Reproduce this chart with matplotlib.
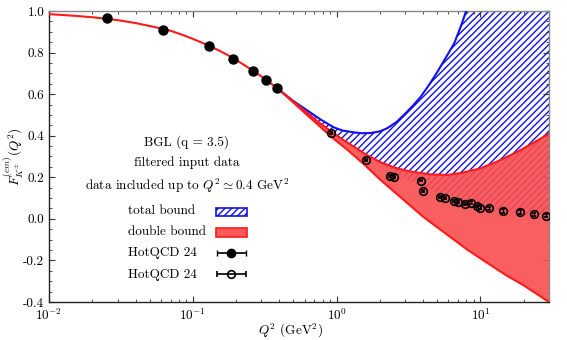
import numpy as np
import matplotlib
matplotlib.use("Agg")
import matplotlib.pyplot as plt
from matplotlib.patches import Patch
from matplotlib.container import ErrorbarContainer
from matplotlib.legend_handler import HandlerErrorbar
from matplotlib.ticker import FixedLocator, FixedFormatter, MultipleLocator, LogLocator, NullFormatter

plt.rcParams['font.family'] = 'serif'
plt.rcParams['font.serif'] = ['cmr10', 'DejaVu Serif']
plt.rcParams['mathtext.fontset'] = 'cm'
plt.rcParams['axes.formatter.use_mathtext'] = True
plt.rcParams['hatch.linewidth'] = 1.0

# ---- data ----
# central curve (before the bands open)
central_q2 = [0.01, 0.015, 0.02, 0.03, 0.04, 0.055, 0.07, 0.085, 0.1, 0.125, 0.15, 0.175, 0.2, 0.25, 0.3, 0.35, 0.4]
central_f = [0.985, 0.977, 0.970, 0.956, 0.942, 0.922, 0.905, 0.885, 0.866, 0.838, 0.812, 0.788, 0.765, 0.722, 0.685, 0.651, 0.620]

# total bound (blue) upper edge
blue_up_q2 = [0.4, 0.5, 0.6, 0.774, 0.957, 1.1, 1.32, 1.5, 1.73, 2.0, 2.25, 2.6, 2.94, 3.4, 3.85, 4.4, 5.03, 5.8, 6.58, 7.3, 7.93, 9.0, 12.0, 20.0, 30.0]
blue_up_f = [0.620, 0.567, 0.530, 0.478, 0.440, 0.425, 0.416, 0.412, 0.413, 0.421, 0.436, 0.465, 0.500, 0.545, 0.588, 0.645, 0.708, 0.780, 0.845, 0.925, 0.997, 1.110, 1.380, 1.850, 2.200]
# total bound lower edge (mostly hidden under the double bound)
blue_lo_q2 = [0.4, 0.6, 1.0, 1.5, 2.0, 3.0, 4.0, 6.0, 10.0, 20.0, 30.0]
blue_lo_f = [0.620, 0.520, 0.405, 0.320, 0.265, 0.195, 0.155, 0.105, 0.060, 0.020, 0.005]

# double bound (red) edges
red_up_q2 = [0.4, 0.5, 0.6, 0.75, 0.92, 1.1, 1.32, 1.6, 2.03, 2.5, 3.0, 3.46, 4.5, 5.9, 7.5, 10.0, 13.0, 17.2, 22.0, 30.0]
red_up_f = [0.620, 0.565, 0.520, 0.465, 0.420, 0.382, 0.347, 0.310, 0.272, 0.248, 0.233, 0.225, 0.214, 0.211, 0.222, 0.243, 0.275, 0.315, 0.355, 0.410]
red_lo_q2 = [0.4, 0.5, 0.6, 0.75, 0.92, 1.2, 1.6, 2.0, 2.94, 4.0, 5.9, 8.0, 10.0, 15.0, 20.0, 30.0]
red_lo_f = [0.620, 0.560, 0.510, 0.450, 0.394, 0.330, 0.254, 0.190, 0.090, 0.010, -0.077, -0.145, -0.190, -0.270, -0.320, -0.400]

# HotQCD 24 input (filled) and remaining data (open)
in_q2 = [0.0254, 0.0622, 0.130, 0.1905, 0.261, 0.3236, 0.384]
in_f = [0.966, 0.909, 0.832, 0.769, 0.711, 0.667, 0.628]
in_err = [0.004, 0.004, 0.004, 0.004, 0.004, 0.004, 0.004]

out_q2 = [0.918, 1.60, 2.35, 2.51, 3.85, 4.02, 5.25, 5.66, 6.57, 7.0, 7.84, 8.59, 9.46, 9.97, 11.5, 14.3, 18.8, 23.7, 28.6]
out_f = [0.413, 0.283, 0.206, 0.200, 0.184, 0.134, 0.104, 0.102, 0.086, 0.081, 0.072, 0.078, 0.062, 0.054, 0.051, 0.038, 0.033, 0.022, 0.015]
out_err = [0.004, 0.004, 0.004, 0.004, 0.004, 0.004, 0.005, 0.005, 0.006, 0.006, 0.006, 0.006, 0.007, 0.007, 0.008, 0.010, 0.008, 0.006, 0.006]

yticks = [-0.4, -0.2, 0.0, 0.2, 0.4, 0.6, 0.8, 1.0]
ytick_labels = ['-0.4', '-0.2', '0.0', '0.2', '0.4', '0.6', '0.8', '1.0']
xticks = [0.01, 0.1, 1, 10]
xtick_labels = [r'$10^{-2}$', r'$10^{-1}$', r'$10^{0}$', r'$10^{1}$']

legend_labels = ['total bound', 'double bound', 'HotQCD 24', 'HotQCD 24']
info_lines = ['BGL (q = 3.5)', 'filtered input data', r'data included up to $Q^2 \simeq 0.4$ GeV$^2$']

# ---- figure ----
fig = plt.figure(figsize=(5.67, 3.40), dpi=100)
ax = fig.add_axes([49/567, 1-302/340, 500/567, 291/340])

BLUE = '#1010ee'
RED = '#ff1a1a'

# total bound band
bx = np.array(blue_up_q2)
ax.fill_between(bx, np.interp(np.log(bx), np.log(blue_lo_q2), blue_lo_f), blue_up_f,
                facecolor='none', edgecolor=BLUE, hatch='/////', linewidth=0, zorder=1)
ax.plot(blue_up_q2, blue_up_f, color=BLUE, lw=1.5, zorder=3)

# double bound band
rx = np.array(red_up_q2)
ax.fill_between(rx, np.interp(np.log(rx), np.log(red_lo_q2), red_lo_f), red_up_f,
                facecolor=(0.98, 0.30, 0.30), alpha=0.9, edgecolor='none', linewidth=0, zorder=2)
ax.plot(red_up_q2, red_up_f, color=RED, lw=1.5, zorder=3)
ax.plot(red_lo_q2, red_lo_f, color=RED, lw=1.5, zorder=3)
ax.plot(central_q2, central_f, color=RED, lw=1.5, zorder=3)

# data
ax.errorbar(in_q2, in_f, yerr=in_err, fmt='o', color='black', ms=6.5, capsize=2, lw=1, zorder=5)
ax.errorbar(out_q2, out_f, yerr=out_err, fmt='o', color='black', mfc='none', ms=5.5, mew=1.2,
            capsize=1.5, lw=1, zorder=5)

ax.set_xscale('log')
ax.set_xlim(0.01, 30)
ax.set_ylim(-0.4, 1.0)

ax.xaxis.set_major_locator(FixedLocator(xticks))
ax.xaxis.set_major_formatter(FixedFormatter(xtick_labels))
ax.xaxis.set_minor_locator(LogLocator(base=10, subs=np.arange(2, 10), numticks=20))
ax.xaxis.set_minor_formatter(NullFormatter())
ax.yaxis.set_major_locator(FixedLocator(yticks))
ax.yaxis.set_major_formatter(FixedFormatter(ytick_labels))
ax.yaxis.set_minor_locator(MultipleLocator(0.05))

ax.tick_params(which='both', direction='in', top=True, right=True, labelsize=9.5, color='#333333')
ax.tick_params(which='major', length=4, width=0.8)
ax.tick_params(which='minor', length=2, width=0.6)
ax.tick_params(axis='x', which='major', pad=4)

for s in ['top', 'right']:
    ax.spines[s].set_color('#888888')
for s in ['left', 'bottom']:
    ax.spines[s].set_color('#222222')
for s in ax.spines.values():
    s.set_linewidth(1.0)

ax.set_xlabel(r'$Q^2$ (GeV$^2$)', fontsize=9.5)
ax.xaxis.set_label_coords(0.482, -0.07)
ax.set_ylabel(r'$F_{K^{\pm}}^{(em)}(Q^2)$', fontsize=9.5)
ax.yaxis.set_label_coords(-0.048, 0.5)

# info text
for txt, yy in zip(info_lines, [0.550, 0.478, 0.399]):
    ax.text(0.276, yy, txt, transform=ax.transAxes, ha='center', va='center', fontsize=9.5)

# legend: handles only, labels written as left-aligned text
h_total = Patch(facecolor='white', edgecolor=BLUE, hatch='/////', lw=1.2)
h_double = Patch(facecolor=(0.98, 0.35, 0.35), edgecolor=RED, lw=1.2)
h_in = ax.errorbar([1e-4], [5.0], xerr=[1e-5], fmt='o', color='black', ms=6, capsize=2.5, lw=1.2)
h_out = ax.errorbar([1e-4], [5.0], xerr=[1e-5], fmt='o', color='black', mfc='none', ms=5.5, mew=1.2,
                    capsize=2.5, lw=1.2)
leg = ax.legend([h_total, h_double, h_in, h_out], ['', '', '', ''], frameon=False,
                loc='upper left', bbox_to_anchor=((209-49)/500, (302-201)/291),
                handlelength=2.4, handleheight=0.6, labelspacing=0.63, fontsize=9.5,
                borderpad=0, handletextpad=0,
                handler_map={ErrorbarContainer: HandlerErrorbar(xerr_size=1.1)})
for txt, yy in zip(legend_labels, [0.313, 0.241, 0.168, 0.093]):
    ax.text(0.158, yy, txt, transform=ax.transAxes, ha='left', va='center', fontsize=9.5)

fig.savefig('out.png', dpi=100)
